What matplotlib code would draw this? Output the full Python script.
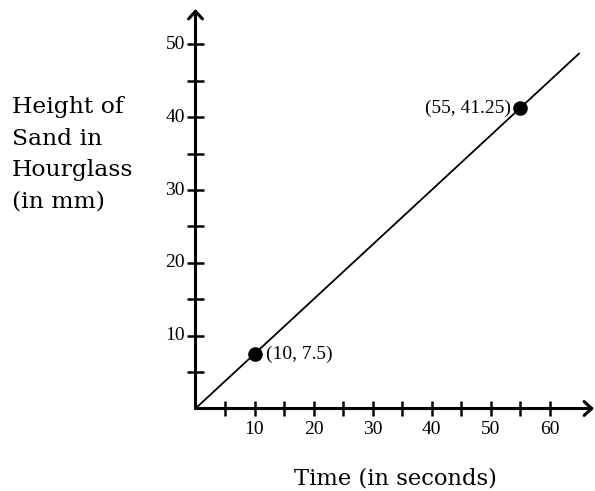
import matplotlib
matplotlib.use("Agg")
import matplotlib.pyplot as plt

# data
line_x = [0, 65]
line_y = [0, 48.75]
point_x = [10, 55]
point_y = [7.5, 41.25]
point_labels = ["(10, 7.5)", "(55, 41.25)"]
x_ticks = [5, 10, 15, 20, 25, 30, 35, 40, 45, 50, 55, 60]
x_tick_labels = [10, 20, 30, 40, 50, 60]
y_ticks = [5, 10, 15, 20, 25, 30, 35, 40, 45, 50]
y_tick_labels = [10, 20, 30, 40, 50]
x_label = "Time (in seconds)"
y_label_lines = ["Height of", "Sand in", "Hourglass", "(in mm)"]

W, H = 595, 491
fig = plt.figure(figsize=(W / 100, H / 100), dpi=100)
ax = fig.add_axes([0, 0, 1, 1])
ax.axis("off")

px_per_x = 5.9
px_per_y = 7.28
x0p, y0p = 195.5, 408.5
ax.set_xlim(-x0p / px_per_x, (W - x0p) / px_per_x)
ax.set_ylim(-(H - y0p) / px_per_y, y0p / px_per_y)

def dx(px):
    return px / px_per_x

def dy(px):
    return px / px_per_y

def px2x(px):
    return (px - x0p) / px_per_x

def py2y(py):
    return (y0p - py) / px_per_y

num_font = "Liberation Serif"
lab_font = "DejaVu Serif"

arrow = dict(arrowstyle="->,head_length=0.55,head_width=0.5", lw=2.2, color="black",
             shrinkA=0, shrinkB=0)
ax.annotate("", xy=(px2x(594), 0), xytext=(0, 0), arrowprops=arrow)
ax.annotate("", xy=(0, py2y(9)), xytext=(0, 0), arrowprops=arrow)

for t in x_ticks:
    ax.plot([t, t], [-dy(7.5), dy(7.5)], color="black", lw=1.8, solid_capstyle="butt")
for t in y_ticks:
    ax.plot([-dx(8.5), dx(8.5)], [t, t], color="black", lw=1.8, solid_capstyle="butt")

for t in x_tick_labels:
    ax.text(t, -dy(20.5), str(t), ha="center", va="center", fontsize=14, family=num_font)
for t in y_tick_labels:
    ax.text(-dx(10.5), t, str(t), ha="right", va="center", fontsize=14, family=num_font)

ax.plot(line_x, line_y, color="black", lw=1.3)
ax.plot(point_x, point_y, "o", color="black", markersize=9.5)
ax.text(point_x[0] + dx(11.5), point_y[0], point_labels[0], ha="left", va="center",
        fontsize=14, family=num_font)
ax.text(point_x[1] - dx(8.5), point_y[1], point_labels[1], ha="right", va="center",
        fontsize=14, family=num_font)

# axis labels, sized to match measured widths
xl = ax.text(px2x(294), py2y(485), x_label, ha="left", va="baseline",
             fontsize=15.7, family=lab_font)
baselines = [113, 145, 176, 208]
yls = [ax.text(px2x(12), py2y(b), s, ha="left", va="baseline", fontsize=16.5, family=lab_font)
       for s, b in zip(y_label_lines, baselines)]

fig.canvas.draw()
r = fig.canvas.get_renderer()
wx = xl.get_window_extent(r).width
xl.set_fontsize(xl.get_fontsize() * 203.0 / wx)
wy = yls[2].get_window_extent(r).width
fs = yls[2].get_fontsize() * 121.0 / wy
for t in yls:
    t.set_fontsize(fs)

fig.savefig("out.png", dpi=100)
